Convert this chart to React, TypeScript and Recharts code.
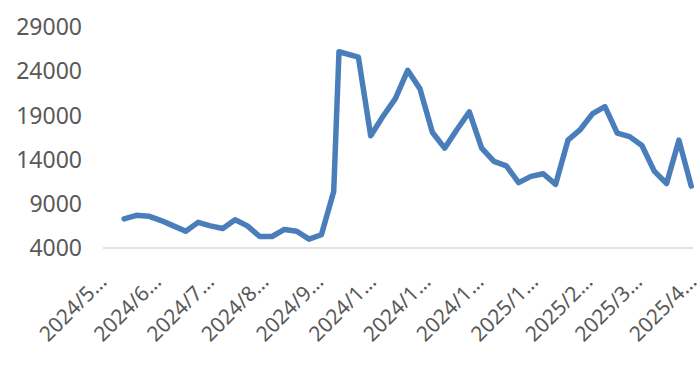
import React from "react";
import { LineChart, Line, XAxis, YAxis } from "recharts";

// weekly observations (Fridays, plus the extra 9/30 print before the holiday)
const dates = [
  "2024/5/31", "2024/6/7", "2024/6/14", "2024/6/21", "2024/6/28",
  "2024/7/5", "2024/7/12", "2024/7/19", "2024/7/26", "2024/8/2",
  "2024/8/9", "2024/8/16", "2024/8/23", "2024/8/30", "2024/9/6",
  "2024/9/13", "2024/9/20", "2024/9/27", "2024/9/30", "2024/10/11",
  "2024/10/18", "2024/10/25", "2024/11/1", "2024/11/8", "2024/11/15",
  "2024/11/22", "2024/11/29", "2024/12/6", "2024/12/13", "2024/12/20",
  "2024/12/27", "2025/1/3", "2025/1/10", "2025/1/17", "2025/1/24",
  "2025/1/31", "2025/2/7", "2025/2/14", "2025/2/21", "2025/2/28",
  "2025/3/7", "2025/3/14", "2025/3/21", "2025/3/28", "2025/4/4",
  "2025/4/11", "2025/4/18",
];

const values = [
  7300, 7700, 7600, 7100, 6500,
  5900, 6900, 6500, 6200, 7200,
  6500, 5300, 5300, 6100, 5900,
  5000, 5500, 10400, 26200, 25600,
  16700, 18900, 20900, 24100, 22000,
  17100, 15300, 17400, 19400, 15300,
  13800, 13300, 11400, 12100, 12400,
  11200, 16200, 17400, 19200, 20000,
  17000, 16600, 15600, 12700, 11300,
  16200, 11000,
];

const xTicks = [
  "2024/5/19", "2024/6/19", "2024/7/19", "2024/8/19", "2024/9/19",
  "2024/10/19", "2024/11/19", "2024/12/19", "2025/1/19", "2025/2/19",
  "2025/3/19", "2025/4/19",
];

const yTicks = [4000, 9000, 14000, 19000, 24000, 29000];

const toDay = (s: string) => {
  const [y, m, d] = s.split("/").map(Number);
  return Date.UTC(y, m - 1, d) / 86400000;
};

const data = dates.map((d, i) => ({ t: toDay(d), value: values[i] }));
const tickDays = xTicks.map(toDay);
const labelFor: Record<number, string> = {};
xTicks.forEach((s) => {
  labelFor[toDay(s)] = s.slice(0, 6) + "…";
});

const FONT = "'Noto Sans', sans-serif";

const XTick = (props: any) => {
  const { x, y, payload } = props;
  const ax = x + 5;
  const ay = y + 35;
  return (
    <text
      x={ax}
      y={ay}
      transform={`rotate(-45, ${ax}, ${ay})`}
      textAnchor="end"
      fontSize={21}
      fontFamily={FONT}
      fill="#595959"
    >
      {labelFor[payload.value]}
    </text>
  );
};

export default function App() {
  return (
    <div style={{ position: "absolute", left: 0, top: 0, background: "#fff" }}>
      <LineChart
        width={700}
        height={369}
        data={data}
        margin={{ top: 27, right: 7, bottom: 0, left: 0 }}
      >
        <XAxis
          dataKey="t"
          type="number"
          domain={[toDay("2024/5/19"), toDay("2025/4/19")]}
          ticks={tickDays}
          interval={0}
          height={121}
          tickSize={0}
          tickMargin={0}
          tickLine={false}
          axisLine={{ stroke: "#d9d9d9", strokeWidth: 1.5 }}
          tick={(p: any) => <XTick {...p} />}
        />
        <YAxis
          type="number"
          domain={[4000, 29000]}
          ticks={yTicks}
          interval={0}
          width={103}
          axisLine={false}
          tickLine={false}
          tickSize={0}
          tickMargin={21}
          tick={{ fontSize: 23, fill: "#595959", fontFamily: FONT }}
        />
        <Line
          type="linear"
          dataKey="value"
          stroke="#4a7ebb"
          strokeWidth={5.5}
          strokeLinejoin="round"
          strokeLinecap="round"
          dot={false}
          isAnimationActive={false}
        />
      </LineChart>
    </div>
  );
}
